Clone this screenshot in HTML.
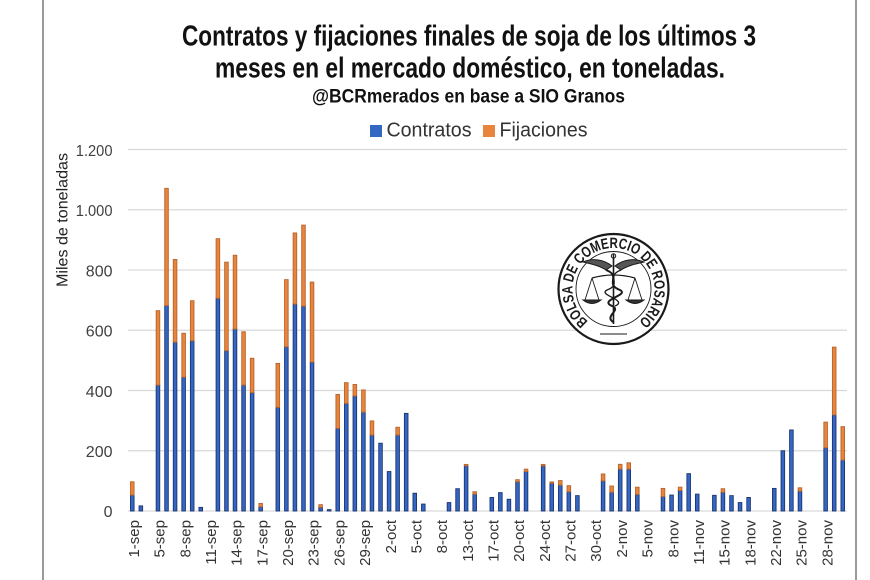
<!DOCTYPE html>
<html>
<head>
<meta charset="utf-8">
<style>
  html,body{margin:0;padding:0;background:#fff;}
  svg{display:block;}
  .tick{font-family:"Liberation Sans",sans-serif;font-size:16px;fill:#404040;}
  .xl{font-family:"Liberation Sans",sans-serif;font-size:15px;fill:#333;}
</style>
</head>
<body>
<svg width="870" height="580" viewBox="0 0 870 580" xmlns="http://www.w3.org/2000/svg">
  <rect x="0" y="0" width="870" height="580" fill="#ffffff"/>
  <!-- side borders -->
  <line x1="43" y1="0" x2="43" y2="580" stroke="#808080" stroke-width="1.6"/>
  <line x1="856" y1="0" x2="856" y2="580" stroke="#808080" stroke-width="1.6"/>

  <!-- Titles -->
  <g font-family="'Liberation Sans Narrow','Liberation Sans',sans-serif" font-weight="bold" fill="#111">
    <text x="182" y="45.7" font-size="28.5" textLength="574" lengthAdjust="spacingAndGlyphs">Contratos y fijaciones finales de soja de los últimos 3</text>
    <text x="215" y="77.3" font-size="28.5" textLength="510" lengthAdjust="spacingAndGlyphs">meses en el mercado doméstico, en toneladas.</text>
    <text x="312" y="102.3" font-size="19" textLength="313" lengthAdjust="spacingAndGlyphs">@BCRmerados en base a SIO Granos</text>
  </g>

  <!-- Legend -->
  <rect x="370" y="125" width="12" height="12" fill="#3466c4"/>
  <text x="386.5" y="136.7" font-family="'Liberation Sans',sans-serif" font-size="20" fill="#333" textLength="85" lengthAdjust="spacingAndGlyphs">Contratos</text>
  <rect x="483" y="125" width="12" height="12" fill="#e8843c"/>
  <text x="499.5" y="136.7" font-family="'Liberation Sans',sans-serif" font-size="20" fill="#333" textLength="88" lengthAdjust="spacingAndGlyphs">Fijaciones</text>

  <!-- Gridlines -->
  <g stroke="#d9d9d9" stroke-width="1.2">
    <line x1="128" y1="149.5" x2="847" y2="149.5"/>
    <line x1="128" y1="209.75" x2="847" y2="209.75"/>
    <line x1="128" y1="270" x2="847" y2="270"/>
    <line x1="128" y1="330.25" x2="847" y2="330.25"/>
    <line x1="128" y1="390.5" x2="847" y2="390.5"/>
    <line x1="128" y1="450.75" x2="847" y2="450.75"/>
    <line x1="128" y1="511" x2="847" y2="511"/>
  </g>

  <!-- Y tick labels -->
  <g class="tick" text-anchor="end">
    <text x="112.5" y="155.8" textLength="36.7" lengthAdjust="spacingAndGlyphs">1.200</text>
    <text x="112.5" y="216" textLength="36.7" lengthAdjust="spacingAndGlyphs">1.000</text>
    <text x="112.5" y="276.3">800</text>
    <text x="112.5" y="336.5">600</text>
    <text x="112.5" y="396.8">400</text>
    <text x="112.5" y="457">200</text>
    <text x="112.5" y="517">0</text>
  </g>

  <!-- Y axis title -->
  <text transform="translate(67.5,220) rotate(-90)" text-anchor="middle" font-family="'Liberation Sans',sans-serif" font-size="16" fill="#222" textLength="134" lengthAdjust="spacingAndGlyphs">Miles de toneladas</text>

  <!-- Logo -->
  <g fill="none" stroke="#1a1a1a">
    <circle cx="613.5" cy="289" r="55" stroke-width="2.2" fill="#fff"/>
    <circle cx="613.5" cy="289" r="37.5" stroke-width="0.9"/>
    <line x1="613.5" y1="254" x2="613.5" y2="324" stroke-width="1.6"/>
    <circle cx="613.5" cy="256" r="2.2" stroke-width="1"/>
    <path d="M612,266 C603,259 592,258 583,262 C592,264 600,266 606,270 Z" stroke-width="1" fill="#555"/>
    <path d="M615,266 C624,259 635,258 644,262 C635,264 627,266 621,270 Z" stroke-width="1" fill="#555"/>
    <path d="M592,278 Q613.5,272 635,278" stroke-width="1.3"/>
    <line x1="592" y1="278" x2="585" y2="300" stroke-width="0.9"/>
    <line x1="592" y1="278" x2="599" y2="300" stroke-width="0.9"/>
    <path d="M583,300 L601,300 Q592,307 583,300 Z" stroke-width="1" fill="#333"/>
    <line x1="635" y1="278" x2="628" y2="300" stroke-width="0.9"/>
    <line x1="635" y1="278" x2="642" y2="300" stroke-width="0.9"/>
    <path d="M626,300 L644,300 Q635,307 626,300 Z" stroke-width="1" fill="#333"/>
    <path d="M606,270 C622,276 604,284 620,290 C630,295 598,300 612,306 C622,310 604,316 613,322" stroke-width="2"/>
    <path d="M621,270 C605,276 623,284 607,290 C597,295 629,300 615,306" stroke-width="1.3"/>
    <line x1="600" y1="334" x2="627" y2="334" stroke-width="1"/>
  </g>
  <defs>
    <path id="logoArc" d="M588.26,321.31 A41,41 0 1,1 638.74,321.31"/>
  </defs>
  <text font-family="'Liberation Sans',sans-serif" font-size="15" font-weight="bold" fill="#1a1a1a">
    <textPath href="#logoArc" textLength="203" lengthAdjust="spacingAndGlyphs">BOLSA DE COMERCIO DE ROSARIO</textPath>
  </text>

  <!-- Bars: Contratos (blue) -->
  <g fill="#3466c4" stroke="#1c3470" stroke-width="0.9">
    <rect x="130.48" y="495.03" width="3.6" height="15.97"/>
    <rect x="139.04" y="505.88" width="3.6" height="5.12"/>
    <rect x="156.16" y="385.08" width="3.6" height="125.92"/>
    <rect x="164.72" y="305.55" width="3.6" height="205.45"/>
    <rect x="173.28" y="342.30" width="3.6" height="168.70"/>
    <rect x="181.84" y="377.24" width="3.6" height="133.76"/>
    <rect x="190.40" y="340.79" width="3.6" height="170.21"/>
    <rect x="198.96" y="507.38" width="3.6" height="3.62"/>
    <rect x="216.08" y="298.32" width="3.6" height="212.68"/>
    <rect x="224.64" y="350.73" width="3.6" height="160.27"/>
    <rect x="233.20" y="329.04" width="3.6" height="181.96"/>
    <rect x="241.76" y="385.08" width="3.6" height="125.92"/>
    <rect x="250.32" y="392.61" width="3.6" height="118.39"/>
    <rect x="258.88" y="506.78" width="3.6" height="4.22"/>
    <rect x="276.00" y="407.37" width="3.6" height="103.63"/>
    <rect x="284.56" y="346.82" width="3.6" height="164.18"/>
    <rect x="293.12" y="304.04" width="3.6" height="206.96"/>
    <rect x="301.68" y="306.15" width="3.6" height="204.85"/>
    <rect x="310.24" y="362.18" width="3.6" height="148.82"/>
    <rect x="318.80" y="507.38" width="3.6" height="3.62"/>
    <rect x="327.36" y="509.6" width="3.6" height="1.4"/>
    <rect x="335.92" y="428.46" width="3.6" height="82.54"/>
    <rect x="344.48" y="403.45" width="3.6" height="107.55"/>
    <rect x="353.04" y="395.92" width="3.6" height="115.08"/>
    <rect x="361.60" y="412.19" width="3.6" height="98.81"/>
    <rect x="370.16" y="435.08" width="3.6" height="75.92"/>
    <rect x="378.72" y="443.22" width="3.6" height="67.78"/>
    <rect x="387.28" y="471.54" width="3.6" height="39.46"/>
    <rect x="395.84" y="435.08" width="3.6" height="75.92"/>
    <rect x="404.40" y="413.39" width="3.6" height="97.61"/>
    <rect x="412.96" y="493.23" width="3.6" height="17.77"/>
    <rect x="421.52" y="504.07" width="3.6" height="6.93"/>
    <rect x="447.20" y="502.56" width="3.6" height="8.44"/>
    <rect x="455.76" y="488.71" width="3.6" height="22.29"/>
    <rect x="464.32" y="465.81" width="3.6" height="45.19"/>
    <rect x="472.88" y="494.13" width="3.6" height="16.87"/>
    <rect x="490.00" y="497.44" width="3.6" height="13.56"/>
    <rect x="498.56" y="492.62" width="3.6" height="18.38"/>
    <rect x="507.12" y="499.25" width="3.6" height="11.75"/>
    <rect x="515.68" y="481.78" width="3.6" height="29.22"/>
    <rect x="524.24" y="471.54" width="3.6" height="39.46"/>
    <rect x="541.36" y="465.81" width="3.6" height="45.19"/>
    <rect x="549.92" y="483.28" width="3.6" height="27.72"/>
    <rect x="558.48" y="485.09" width="3.6" height="25.91"/>
    <rect x="567.04" y="491.72" width="3.6" height="19.28"/>
    <rect x="575.60" y="495.64" width="3.6" height="15.36"/>
    <rect x="601.28" y="480.87" width="3.6" height="30.13"/>
    <rect x="609.84" y="492.32" width="3.6" height="18.68"/>
    <rect x="618.40" y="469.13" width="3.6" height="41.87"/>
    <rect x="626.96" y="469.13" width="3.6" height="41.87"/>
    <rect x="635.52" y="494.43" width="3.6" height="16.57"/>
    <rect x="661.20" y="496.54" width="3.6" height="14.46"/>
    <rect x="669.76" y="495.03" width="3.6" height="15.97"/>
    <rect x="678.32" y="490.51" width="3.6" height="20.49"/>
    <rect x="686.88" y="473.64" width="3.6" height="37.36"/>
    <rect x="695.44" y="494.13" width="3.6" height="16.87"/>
    <rect x="712.56" y="495.33" width="3.6" height="15.67"/>
    <rect x="721.12" y="492.32" width="3.6" height="18.68"/>
    <rect x="729.68" y="495.64" width="3.6" height="15.36"/>
    <rect x="738.24" y="502.56" width="3.6" height="8.44"/>
    <rect x="746.80" y="497.44" width="3.6" height="13.56"/>
    <rect x="772.48" y="488.41" width="3.6" height="22.59"/>
    <rect x="781.04" y="450.75" width="3.6" height="60.25"/>
    <rect x="789.60" y="429.96" width="3.6" height="81.04"/>
    <rect x="798.16" y="491.12" width="3.6" height="19.88"/>
    <rect x="823.84" y="447.74" width="3.6" height="63.26"/>
    <rect x="832.40" y="414.90" width="3.6" height="96.10"/>
    <rect x="840.96" y="460.09" width="3.6" height="50.91"/>
  </g>

  <!-- Bars: Fijaciones (orange) -->
  <g fill="#e8843c" stroke="#b5652e" stroke-width="0.9">
    <rect x="130.48" y="481.78" width="3.6" height="13.25"/>
    <rect x="156.16" y="310.67" width="3.6" height="74.41"/>
    <rect x="164.72" y="188.36" width="3.6" height="117.19"/>
    <rect x="173.28" y="259.46" width="3.6" height="82.84"/>
    <rect x="181.84" y="333.26" width="3.6" height="43.98"/>
    <rect x="190.40" y="300.73" width="3.6" height="40.06"/>
    <rect x="216.08" y="238.67" width="3.6" height="59.65"/>
    <rect x="224.64" y="262.17" width="3.6" height="88.56"/>
    <rect x="233.20" y="255.24" width="3.6" height="73.80"/>
    <rect x="241.76" y="331.76" width="3.6" height="53.32"/>
    <rect x="250.32" y="358.27" width="3.6" height="34.34"/>
    <rect x="258.88" y="503.47" width="3.6" height="3.31"/>
    <rect x="276.00" y="363.39" width="3.6" height="43.98"/>
    <rect x="284.56" y="279.64" width="3.6" height="67.18"/>
    <rect x="293.12" y="232.95" width="3.6" height="71.09"/>
    <rect x="301.68" y="225.11" width="3.6" height="81.04"/>
    <rect x="310.24" y="282.05" width="3.6" height="80.13"/>
    <rect x="318.80" y="504.67" width="3.6" height="2.71"/>
    <rect x="335.92" y="394.42" width="3.6" height="34.04"/>
    <rect x="344.48" y="382.67" width="3.6" height="20.78"/>
    <rect x="353.04" y="384.47" width="3.6" height="11.45"/>
    <rect x="361.60" y="389.90" width="3.6" height="22.29"/>
    <rect x="370.16" y="420.93" width="3.6" height="14.15"/>
    <rect x="395.84" y="427.25" width="3.6" height="7.83"/>
    <rect x="464.32" y="464.41" width="3.6" height="1.4"/>
    <rect x="472.88" y="491.72" width="3.6" height="2.41"/>
    <rect x="515.68" y="479.67" width="3.6" height="2.11"/>
    <rect x="524.24" y="469.13" width="3.6" height="2.41"/>
    <rect x="541.36" y="464.41" width="3.6" height="1.4"/>
    <rect x="549.92" y="481.88" width="3.6" height="1.4"/>
    <rect x="558.48" y="480.57" width="3.6" height="4.52"/>
    <rect x="567.04" y="485.69" width="3.6" height="6.03"/>
    <rect x="601.28" y="473.95" width="3.6" height="6.92"/>
    <rect x="609.84" y="486.00" width="3.6" height="6.32"/>
    <rect x="618.40" y="464.31" width="3.6" height="4.82"/>
    <rect x="626.96" y="462.80" width="3.6" height="6.33"/>
    <rect x="635.52" y="487.20" width="3.6" height="7.23"/>
    <rect x="661.20" y="488.41" width="3.6" height="8.13"/>
    <rect x="678.32" y="487.20" width="3.6" height="3.31"/>
    <rect x="721.12" y="488.71" width="3.6" height="3.61"/>
    <rect x="798.16" y="487.80" width="3.6" height="3.32"/>
    <rect x="823.84" y="422.13" width="3.6" height="25.61"/>
    <rect x="832.40" y="347.12" width="3.6" height="67.78"/>
    <rect x="840.96" y="426.65" width="3.6" height="33.44"/>
  </g>

  <!-- X labels -->
  <g class="xl" text-anchor="end">
    <text transform="translate(138.98,520) rotate(-90)">1-sep</text>
    <text transform="translate(164.66,520) rotate(-90)">5-sep</text>
    <text transform="translate(190.34,520) rotate(-90)">8-sep</text>
    <text transform="translate(216.02,520) rotate(-90)">11-sep</text>
    <text transform="translate(241.70,520) rotate(-90)">14-sep</text>
    <text transform="translate(267.38,520) rotate(-90)">17-sep</text>
    <text transform="translate(293.06,520) rotate(-90)">20-sep</text>
    <text transform="translate(318.74,520) rotate(-90)">23-sep</text>
    <text transform="translate(344.42,520) rotate(-90)">26-sep</text>
    <text transform="translate(370.10,520) rotate(-90)">29-sep</text>
    <text transform="translate(395.78,520) rotate(-90)">2-oct</text>
    <text transform="translate(421.46,520) rotate(-90)">5-oct</text>
    <text transform="translate(447.14,520) rotate(-90)">8-oct</text>
    <text transform="translate(472.82,520) rotate(-90)">13-oct</text>
    <text transform="translate(498.50,520) rotate(-90)">17-oct</text>
    <text transform="translate(524.18,520) rotate(-90)">20-oct</text>
    <text transform="translate(549.86,520) rotate(-90)">24-oct</text>
    <text transform="translate(575.54,520) rotate(-90)">27-oct</text>
    <text transform="translate(601.22,520) rotate(-90)">30-oct</text>
    <text transform="translate(626.90,520) rotate(-90)">2-nov</text>
    <text transform="translate(652.58,520) rotate(-90)">5-nov</text>
    <text transform="translate(678.26,520) rotate(-90)">8-nov</text>
    <text transform="translate(703.94,520) rotate(-90)">11-nov</text>
    <text transform="translate(729.62,520) rotate(-90)">15-nov</text>
    <text transform="translate(755.30,520) rotate(-90)">18-nov</text>
    <text transform="translate(780.98,520) rotate(-90)">22-nov</text>
    <text transform="translate(806.66,520) rotate(-90)">25-nov</text>
    <text transform="translate(832.34,520) rotate(-90)">28-nov</text>
  </g>
</svg>
</body>
</html>
